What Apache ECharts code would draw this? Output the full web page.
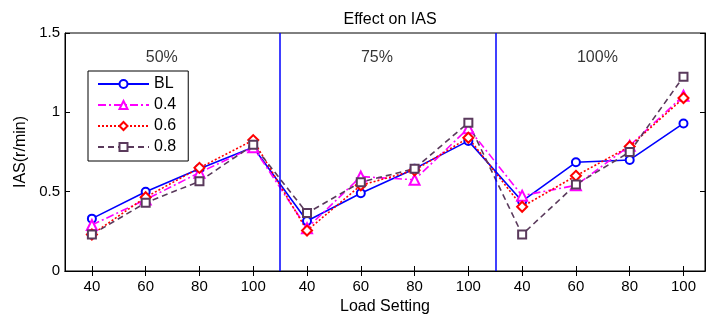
<!DOCTYPE html>
<html><head><meta charset="utf-8">
<script src="https://cdn.jsdelivr.net/npm/echarts@6/dist/echarts.min.js"></script>
<style>html,body{margin:0;padding:0;background:#fff}#c{width:707px;height:320px}</style>
</head><body><div id="c"></div>
<script>
// ---- data ----
const xPositions = [1,2,3,4,5,6,7,8,9,10,11,12];
const xTickLabels = ['40','60','80','100','40','60','80','100','40','60','80','100'];
const seriesNames = ['BL','0.4','0.6','0.8'];
const valBL  = [0.33, 0.50, 0.645, 0.78, 0.315, 0.49, 0.645, 0.82, 0.44, 0.685, 0.70, 0.93];
const val04  = [0.29, 0.45, 0.62, 0.78, 0.27, 0.595, 0.575, 0.90, 0.475, 0.54, 0.79, 1.105];
const val06  = [0.23, 0.465, 0.65, 0.825, 0.255, 0.54, 0.635, 0.84, 0.405, 0.60, 0.785, 1.09];
const val08  = [0.23, 0.43, 0.565, 0.795, 0.365, 0.56, 0.645, 0.935, 0.23, 0.545, 0.75, 1.225];
const dividerX = [4.5, 8.5];
const sectionLabels = ['50%','75%','100%'];
const sectionLabelX = [2.3, 6.3, 10.4];
const sectionLabelY = [1.345, 1.345, 1.345];
const yTicks = [0, 0.5, 1, 1.5];

const FONT = 'Liberation Sans';
const pts = v => xPositions.map((x,i)=>[x, v[i]]);
const chart = echarts.init(document.getElementById('c'));
const xCommon = {
  type:'value', min:0.5, max:12.4,
  splitLine:{show:false},
  axisLine:{lineStyle:{color:'#000',width:1}},
};
const yCommon = {
  type:'value', min:0, max:1.5, interval:0.5,
  splitLine:{show:false},
  axisLine:{show:true,lineStyle:{color:'#000',width:1}},
};
const styles = [
  {color:'#0000ff', type:'solid', symbol:'emptyCircle', size:8},
  {color:'#ff00ff', type:[8,3,2,3], symbol:'emptyTriangle', size:10},
  {color:'#ff0000', type:[2,2], symbol:'emptyDiamond', size:10},
  {color:'#5a3a5c', type:[6,4], symbol:'emptyRect', size:8},
];
const vals = [valBL, val04, val06, val08];
const series = seriesNames.map((n,k)=>({
  name:n, type:'line', data:pts(vals[k]),
  symbol:styles[k].symbol, symbolSize:styles[k].size,
  lineStyle:{color:styles[k].color, width:1.6, type:styles[k].type},
  itemStyle:{color:styles[k].color, borderWidth:1.6},
  z: 3,
  animation:false,
}));
series[0].markLine = {
  silent:true, symbol:['none','none'], label:{show:false},
  lineStyle:{color:'#0000ff', width:1.5, type:'solid'},
  data: dividerX.map(x=>({xAxis:x})),
  animation:false
};
series.push({
  type:'scatter', data: sectionLabelX.map((x,i)=>({value:[x, sectionLabelY[i]], name:sectionLabels[i]})),
  symbolSize:0, silent:true, animation:false,
  label:{show:true, position:'inside', formatter:p=>p.name, color:'#000', fontFamily:FONT, fontSize:16}
});
chart.setOption({
  animation:false,
  backgroundColor:'#fff',
  title:{text:'Effect on IAS', left:385, textAlign:'center', top:7,
    textStyle:{fontFamily:FONT, fontSize:16, fontWeight:'normal', color:'#000'}},
  grid:{left:65, right:2, top:33, bottom:48, show:true, borderColor:'#000', borderWidth:1, backgroundColor:'#fff'},
  legend:{
    data:seriesNames, orient:'vertical', left:88, top:71,
    backgroundColor:'#fff', borderColor:'#000', borderWidth:1, borderRadius:0,
    padding:[5,12,6,9], itemWidth:51, itemHeight:10, itemGap:5,
    textStyle:{fontFamily:FONT, fontSize:16, color:'#000'}
  },
  xAxis:[
    Object.assign({}, xCommon, {position:'bottom',
      name:'Load Setting', nameLocation:'middle', nameGap:28,
      nameTextStyle:{fontFamily:FONT, fontSize:16, color:'#000'},
      axisTick:{show:true, inside:true, length:5, customValues:xPositions, lineStyle:{color:'#000'}},
      axisLabel:{show:true, margin:8, customValues:xPositions, fontFamily:FONT, fontSize:15, color:'#000',
        formatter:v=>{const i=xPositions.indexOf(v); return i>=0?xTickLabels[i]:'';}}
    }),
    Object.assign({}, xCommon, {position:'top',
      axisTick:{show:true, inside:true, length:5, customValues:xPositions, lineStyle:{color:'#000'}},
      axisLabel:{show:false}
    })
  ],
  yAxis:[
    Object.assign({}, yCommon, {position:'left',
      name:'IAS(r/min)', nameLocation:'middle', nameGap:36,
      nameTextStyle:{fontFamily:FONT, fontSize:16, color:'#000'},
      axisTick:{show:true, inside:true, length:5, lineStyle:{color:'#000'}},
      axisLabel:{margin:5, fontFamily:FONT, fontSize:15, color:'#000',
        customValues:yTicks, formatter:v=>String(v)}
    }),
    Object.assign({}, yCommon, {position:'right',
      axisTick:{show:true, inside:true, length:5, lineStyle:{color:'#000'}},
      axisLabel:{show:false}
    })
  ],
  series: series
});
</script>
</body></html>
